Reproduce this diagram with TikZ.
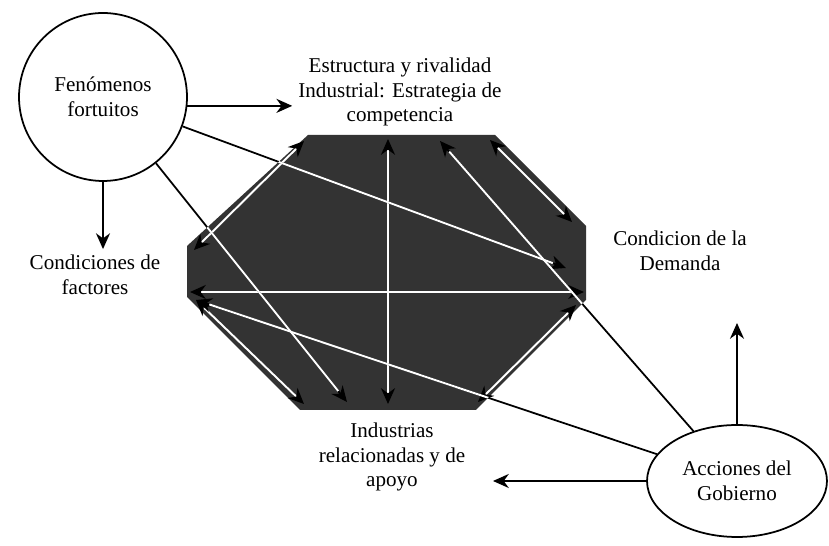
\documentclass[tikz,border=0pt]{standalone}
\usepackage{fontspec}
\setmainfont{Liberation Serif}
\usetikzlibrary{arrows.meta,shapes.geometric}

\tikzset{
  causa/.style={circle,draw,line width=1pt,minimum size=3.36cm},
  gobierno/.style={ellipse,draw,line width=1pt,minimum width=3.6cm,minimum height=2.24cm},
  link/.style={draw=black,line width=1pt},
  inlink/.style={draw=white,line width=1.1pt}
}
\newcommand\diamante{(308,135) -- (495,135) -- (586,226) -- (586,300)
  -- (476,410) -- (300,410) -- (187,297) -- (187,246) -- cycle}

\begin{document}
\begin{tikzpicture}[x=0.02cm,y=-0.02cm,
  every node/.style={align=center,font=\fontsize{12}{14}\selectfont},
  >={Stealth[black,length=9pt,width=8pt]}]
\useasboundingbox (0,0) rectangle (829,546);

% diamante
\fill[black!80] \diamante;

\node[causa] (fen) at (103,97) {Fenómenos\\fortuitos};
\node (est) at (400,92) {Estructura y rivalidad\\Industrial: Estrategia de\\competencia};
\node (fac) at (95,275) {Condiciones de\\factores};
\node (dem) at (680,251) {Condicion de la\\Demanda};
\node (ind) at (392,457) {Industrias\\relacionadas y de\\apoyo};
\node[gobierno] (gob) at (737,481) {Acciones del\\Gobierno};

% puntas dentro del diamante
\coordinate (e1) at (304,141);
\coordinate (e2) at (388,139);
\coordinate (e3) at (440,141);
\coordinate (e4) at (490,140);
\coordinate (f1) at (194,250);
\coordinate (f2) at (190,292);
\coordinate (f3) at (196,300);
\coordinate (d1) at (572,222);
\coordinate (d2) at (566,268);
\coordinate (d3) at (584,292);
\coordinate (d4) at (576,305);
\coordinate (i1) at (304,404);
\coordinate (i2) at (347,402);
\coordinate (i3) at (388,404);
\coordinate (i4) at (478,402);
\coordinate (dm) at (740,323);
\coordinate (im) at (493,487);

\draw[inlink,<->] (f1) -- (e1);
\draw[inlink,<->] (f2) -- (d3);
\draw[inlink,<->] (e2) -- (i3);
\draw[inlink,<->] (e4) -- (d1);
\draw[inlink,<->] (i4) -- (d4);
\draw[inlink,<->] (f3) -- (i1);

% fenomenos y gobierno
\draw[link,->] (fen.-6) -- (fen.-6 -| est.west);
\draw[link,->] (fen.south) -- (fen.south |- fac.north);
\draw[link,->] (fen) -- (d2);
\draw[link,->] (fen) -- (i2);
\draw[link,->] (gob.north) -- (gob.north |- dm);
\draw[link,->] (gob.west) -- (gob.west -| im);
\draw[link,->] (gob) -- (f3);
\draw[link,->] (gob) -- (e3);

\begin{scope}
\clip \diamante;
\draw[inlink,shorten >=8pt] (fen) -- (d2);
\draw[inlink,shorten >=8pt] (fen) -- (i2);
\draw[inlink,shorten >=8pt] (gob) -- (f3);
\draw[inlink,shorten >=8pt] (gob) -- (e3);
\end{scope}
\end{tikzpicture}
\end{document}
